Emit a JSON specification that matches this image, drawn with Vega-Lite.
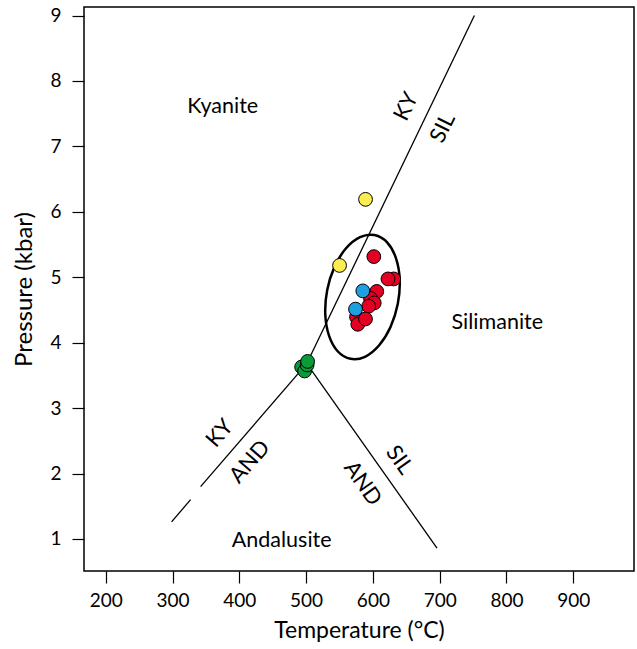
{
  "$schema": "https://vega.github.io/schema/vega-lite/v6.json",
  "width": 550,
  "height": 564,
  "autosize": {"type": "none"},
  "padding": {"left": 84, "top": 7, "right": 3, "bottom": 78},
  "background": "white",
  "config": {
    "view": {"stroke": "black", "strokeWidth": 1.5},
    "font": "Lato",
    "axis": {
      "domain": false, "grid": false, "tickColor": "black", "tickSize": 12, "tickWidth": 1.2,
      "labelColor": "black", "labelFontSize": 19, "labelFont": "Lato",
      "titleColor": "black", "titleFont": "Lato", "titleFontWeight": "normal"
    }
  },
  "datasets": {
    "bounds": [
      {"seg": "ky-sil", "T": 501, "P": 3.68, "o": 1},
      {"seg": "ky-sil", "T": 752, "P": 9.0, "o": 2},
      {"seg": "and-sil", "T": 501, "P": 3.68, "o": 1},
      {"seg": "and-sil", "T": 696, "P": 0.86, "o": 2},
      {"seg": "ky-and-a", "T": 501, "P": 3.68, "o": 1},
      {"seg": "ky-and-a", "T": 342, "P": 1.8, "o": 2},
      {"seg": "ky-and-b", "T": 327, "P": 1.6, "o": 1},
      {"seg": "ky-and-b", "T": 298.5, "P": 1.26, "o": 2}
    ],
    "ellipse": [
      {"o": 1, "T": 602.4, "P": 5.645},
      {"o": 2, "T": 621.3, "P": 5.533},
      {"o": 3, "T": 634.5, "P": 5.293},
      {"o": 4, "T": 640.2, "P": 4.964},
      {"o": 5, "T": 637.3, "P": 4.594},
      {"o": 6, "T": 626.4, "P": 4.239},
      {"o": 7, "T": 609.1, "P": 3.956},
      {"o": 8, "T": 588.1, "P": 3.784},
      {"o": 9, "T": 566.5, "P": 3.753},
      {"o": 10, "T": 547.6, "P": 3.865},
      {"o": 11, "T": 534.4, "P": 4.104},
      {"o": 12, "T": 528.7, "P": 4.434},
      {"o": 13, "T": 531.6, "P": 4.804},
      {"o": 14, "T": 542.5, "P": 5.158},
      {"o": 15, "T": 559.8, "P": 5.442},
      {"o": 16, "T": 580.8, "P": 5.613}
    ],
    "samples": [
      {"g": "green", "T": 493.3, "P": 3.628},
      {"g": "green", "T": 497.8, "P": 3.567},
      {"g": "green", "T": 501.5, "P": 3.659},
      {"g": "green", "T": 502.2, "P": 3.713},
      {"g": "yellow", "T": 589, "P": 6.19},
      {"g": "yellow", "T": 550.1, "P": 5.18},
      {"g": "red", "T": 601.4, "P": 5.315},
      {"g": "red", "T": 631.2, "P": 4.974},
      {"g": "red", "T": 622.6, "P": 4.974},
      {"g": "red", "T": 605.8, "P": 4.783},
      {"g": "red", "T": 596.4, "P": 4.676},
      {"g": "red", "T": 602, "P": 4.607},
      {"g": "red", "T": 593.7, "P": 4.557},
      {"g": "red", "T": 575.5, "P": 4.393},
      {"g": "red", "T": 577.4, "P": 4.281},
      {"g": "red", "T": 588.9, "P": 4.362},
      {"g": "blue", "T": 584.9, "P": 4.791},
      {"g": "blue", "T": 574, "P": 4.512}
    ],
    "regions": [
      {"label": "Kyanite", "T": 375.2, "P": 7.604},
      {"label": "Silimanite", "T": 786.3, "P": 4.301},
      {"label": "Andalusite", "T": 463.4, "P": 0.968}
    ],
    "kysil": [
      {"label": "KY", "T": 649.8, "P": 7.61},
      {"label": "SIL", "T": 704.5, "P": 7.28}
    ],
    "kyand": [
      {"label": "KY", "T": 370.7, "P": 2.615},
      {"label": "AND", "T": 415.5, "P": 2.18}
    ],
    "andsil": [
      {"label": "SIL", "T": 639.8, "P": 2.206},
      {"label": "AND", "T": 584.9, "P": 1.85}
    ]
  },
  "encoding": {
    "x": {
      "field": "T", "type": "quantitative",
      "scale": {"domain": [167.4, 991], "nice": false, "zero": false},
      "axis": {"values": [200, 300, 400, 500, 600, 700, 800, 900], "title": "Temperature (°C)", "titleFontSize": 23, "labelPadding": 8, "titlePadding": 9}
    },
    "y": {
      "field": "P", "type": "quantitative",
      "scale": {"domain": [0.51, 9.13], "nice": false, "zero": false},
      "axis": {"values": [1, 2, 3, 4, 5, 6, 7, 8, 9], "title": "Pressure (kbar)", "titleFontSize": 24, "labelPadding": 11, "titlePadding": 13}
    }
  },
  "layer": [
    {
      "data": {"name": "bounds"},
      "mark": {"type": "line", "color": "black", "strokeWidth": 1.3},
      "encoding": {"detail": {"field": "seg"}, "order": {"field": "o", "type": "quantitative"}}
    },
    {
      "data": {"name": "ellipse"},
      "mark": {"type": "line", "color": "black", "strokeWidth": 2.5, "interpolate": "cardinal-closed"},
      "encoding": {"order": {"field": "o", "type": "quantitative"}}
    },
    {
      "data": {"name": "samples"},
      "mark": {"type": "point", "shape": "circle", "filled": true, "size": 190, "stroke": "black", "strokeWidth": 1, "opacity": 1},
      "encoding": {
        "color": {
          "field": "g", "type": "nominal", "legend": null,
          "scale": {"domain": ["green", "yellow", "red", "blue"], "range": ["#0a9a3a", "#fcee52", "#e30022", "#1ea0e0"]}
        }
      }
    },
    {
      "data": {"name": "regions"},
      "mark": {"type": "text", "fontSize": 21.5, "color": "black", "font": "Lato"},
      "encoding": {"text": {"field": "label"}}
    },
    {
      "data": {"name": "kysil"},
      "mark": {"type": "text", "fontSize": 22, "color": "black", "font": "Lato", "angle": -64},
      "encoding": {"text": {"field": "label"}}
    },
    {
      "data": {"name": "kyand"},
      "mark": {"type": "text", "fontSize": 22, "color": "black", "font": "Lato", "angle": -49},
      "encoding": {"text": {"field": "label"}}
    },
    {
      "data": {"name": "andsil"},
      "mark": {"type": "text", "fontSize": 22, "color": "black", "font": "Lato", "angle": 55},
      "encoding": {"text": {"field": "label"}}
    }
  ]
}
